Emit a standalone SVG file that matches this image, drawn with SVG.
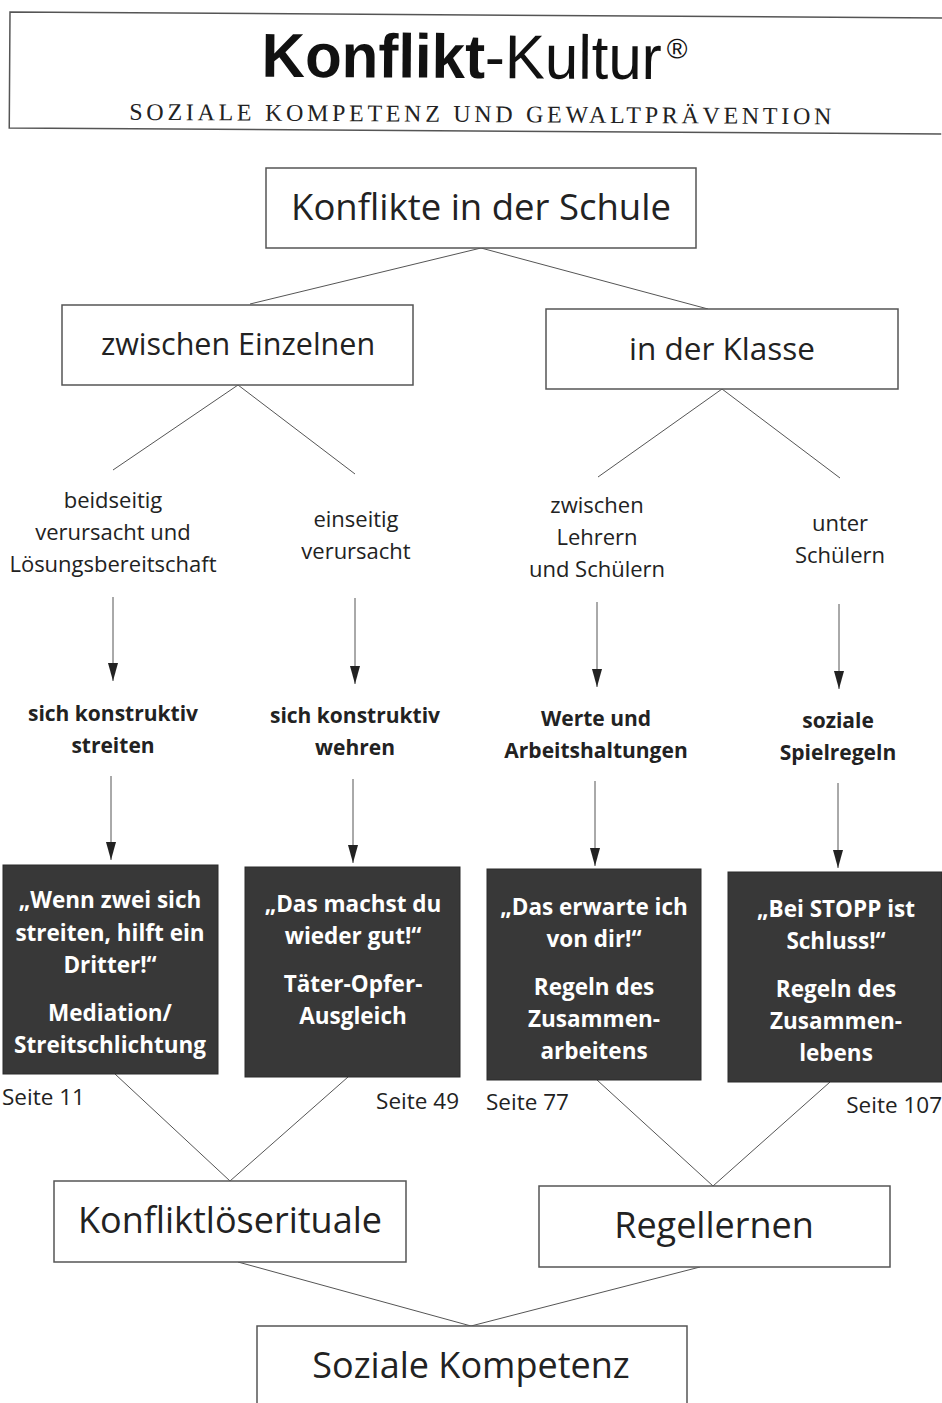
<svg xmlns="http://www.w3.org/2000/svg" width="942" height="1403" viewBox="0 0 942 1403">
<defs>
<marker id="ah" viewBox="0 0 18 10" refX="18" refY="5" markerWidth="18" markerHeight="10" markerUnits="userSpaceOnUse" orient="auto">
<path d="M0,0 L18,5 L0,10 Z" fill="#222"/>
</marker>
<style>
.box{fill:#fff;stroke:#555;stroke-width:1.5}
.dark{fill:#383838;stroke:#2a2a2a;stroke-width:1}
.t{font-family:"Open Sans","Noto Sans",sans-serif;fill:#222;text-anchor:middle}
.lab{font-size:22px}
.bl{font-size:21px;font-weight:bold}
.w{font-family:"Open Sans","Noto Sans",sans-serif;fill:#fff;font-weight:bold;font-size:22.5px;text-anchor:middle}
.seite{font-family:"Open Sans","Noto Sans",sans-serif;fill:#222;font-size:22.5px}
.ln{stroke:#555;stroke-width:1;fill:none}
.ar{stroke:#555;stroke-width:1;fill:none;marker-end:url(#ah)}
</style>
</defs>
<rect width="942" height="1403" fill="#fff"/>
<g id="header" transform="rotate(0.37 10 12)">
<polyline points="942,12 10,12 10,128 942,128" fill="none" stroke="#555" stroke-width="1.5"/>
<text x="262" y="75" font-family="'Liberation Sans',sans-serif" font-size="62" fill="#111" textLength="400" lengthAdjust="spacingAndGlyphs"><tspan font-weight="bold">Konflikt</tspan>-Kultur</text>
<text x="667" y="54" font-family="'Liberation Sans',sans-serif" font-size="28" fill="#111">®</text>
<text x="130" y="119" font-family="'Liberation Serif',serif" font-size="24" fill="#222" textLength="702" lengthAdjust="spacing">SOZIALE KOMPETENZ UND GEWALTPRÄVENTION</text>
</g>
<g id="connectors">
<line class="ln" x1="481" y1="248" x2="250" y2="304"/>
<line class="ln" x1="481" y1="248" x2="708" y2="309"/>
<line class="ln" x1="238" y1="385" x2="113" y2="470"/>
<line class="ln" x1="238" y1="385" x2="355" y2="474"/>
<line class="ln" x1="722" y1="389" x2="598" y2="477"/>
<line class="ln" x1="722" y1="389" x2="840" y2="478"/>
<line class="ar" x1="113" y1="597" x2="113" y2="681"/>
<line class="ar" x1="355" y1="598" x2="355" y2="684"/>
<line class="ar" x1="597" y1="602" x2="597" y2="687"/>
<line class="ar" x1="839" y1="604" x2="839" y2="689"/>
<line class="ar" x1="111" y1="776" x2="111" y2="860"/>
<line class="ar" x1="353" y1="779" x2="353" y2="863"/>
<line class="ar" x1="595" y1="781" x2="595" y2="866"/>
<line class="ar" x1="838" y1="783" x2="838" y2="868"/>
<line class="ln" x1="115" y1="1074" x2="230" y2="1181"/>
<line class="ln" x1="348" y1="1077" x2="230" y2="1181"/>
<line class="ln" x1="597" y1="1080" x2="713" y2="1186"/>
<line class="ln" x1="830" y1="1082" x2="713" y2="1186"/>
<line class="ln" x1="238" y1="1262" x2="471" y2="1326"/>
<line class="ln" x1="700" y1="1267" x2="471" y2="1326"/>
</g>
<g id="n-schule"><rect class="box" x="266" y="168" width="430" height="80"/><text class="t" x="481" y="220" font-size="36.5">Konflikte in der Schule</text></g>
<g id="n-einzelne"><rect class="box" x="62" y="305" width="351" height="80"/><text class="t" x="238" y="355" font-size="30.5">zwischen Einzelnen</text></g>
<g id="n-klasse"><rect class="box" x="546" y="309" width="352" height="80"/><text class="t" x="722" y="360" font-size="31.5">in der Klasse</text></g>
<g id="l-beid"><text class="t lab" x="113" y="508">beidseitig</text><text class="t lab" x="113" y="540">verursacht und</text><text class="t lab" x="113" y="572">Lösungsbereitschaft</text></g>
<g id="l-ein"><text class="t lab" x="356" y="527">einseitig</text><text class="t lab" x="356" y="559">verursacht</text></g>
<g id="l-lehrer"><text class="t lab" x="597" y="513">zwischen</text><text class="t lab" x="597" y="545">Lehrern</text><text class="t lab" x="597" y="577">und Schülern</text></g>
<g id="l-schueler"><text class="t lab" x="840" y="531">unter</text><text class="t lab" x="840" y="563">Schülern</text></g>
<g id="b-streiten"><text class="t bl" x="113" y="721">sich konstruktiv</text><text class="t bl" x="113" y="753">streiten</text></g>
<g id="b-wehren"><text class="t bl" x="355" y="723">sich konstruktiv</text><text class="t bl" x="355" y="755">wehren</text></g>
<g id="b-werte"><text class="t bl" x="596" y="726">Werte und</text><text class="t bl" x="596" y="758">Arbeitshaltungen</text></g>
<g id="b-spiel"><text class="t bl" x="838" y="728">soziale</text><text class="t bl" x="838" y="760">Spielregeln</text></g>
<g id="d-mediation"><rect class="dark" x="3" y="865" width="215" height="209"/>
<text class="w" x="110" y="908">„Wenn zwei sich</text><text class="w" x="110" y="941">streiten, hilft ein</text><text class="w" x="110" y="973">Dritter!“</text><text class="w" x="110" y="1021">Mediation/</text><text class="w" x="110" y="1053">Streitschlichtung</text></g>
<g id="d-toa"><rect class="dark" x="245" y="867" width="215" height="210"/>
<text class="w" x="353" y="912">„Das machst du</text><text class="w" x="353" y="944">wieder gut!“</text><text class="w" x="353" y="992">Täter-Opfer-</text><text class="w" x="353" y="1024">Ausgleich</text></g>
<g id="d-arbeiten"><rect class="dark" x="487" y="869" width="214" height="211"/>
<text class="w" x="594" y="915">„Das erwarte ich</text><text class="w" x="594" y="947">von dir!“</text><text class="w" x="594" y="995">Regeln des</text><text class="w" x="594" y="1027">Zusammen-</text><text class="w" x="594" y="1059">arbeitens</text></g>
<g id="d-leben"><rect class="dark" x="728" y="872" width="214" height="210"/>
<text class="w" x="836" y="917">„Bei STOPP ist</text><text class="w" x="836" y="949">Schluss!“</text><text class="w" x="836" y="997">Regeln des</text><text class="w" x="836" y="1029">Zusammen-</text><text class="w" x="836" y="1061">lebens</text></g>
<g id="pages">
<text class="seite" x="2" y="1105">Seite 11</text>
<text class="seite" x="459" y="1109" text-anchor="end">Seite 49</text>
<text class="seite" x="486" y="1110">Seite 77</text>
<text class="seite" x="942" y="1113" text-anchor="end">Seite 107</text>
</g>
<g id="n-rituale"><rect class="box" x="54" y="1181" width="352" height="81"/><text class="t" x="230" y="1233" font-size="36">Konfliktlöserituale</text></g>
<g id="n-regel"><rect class="box" x="539" y="1186" width="351" height="81"/><text class="t" x="714" y="1238" font-size="36">Regellernen</text></g>
<g id="n-kompetenz"><rect class="box" x="257" y="1326" width="430" height="90"/><text class="t" x="471" y="1378" font-size="36">Soziale Kompetenz</text></g>
</svg>
